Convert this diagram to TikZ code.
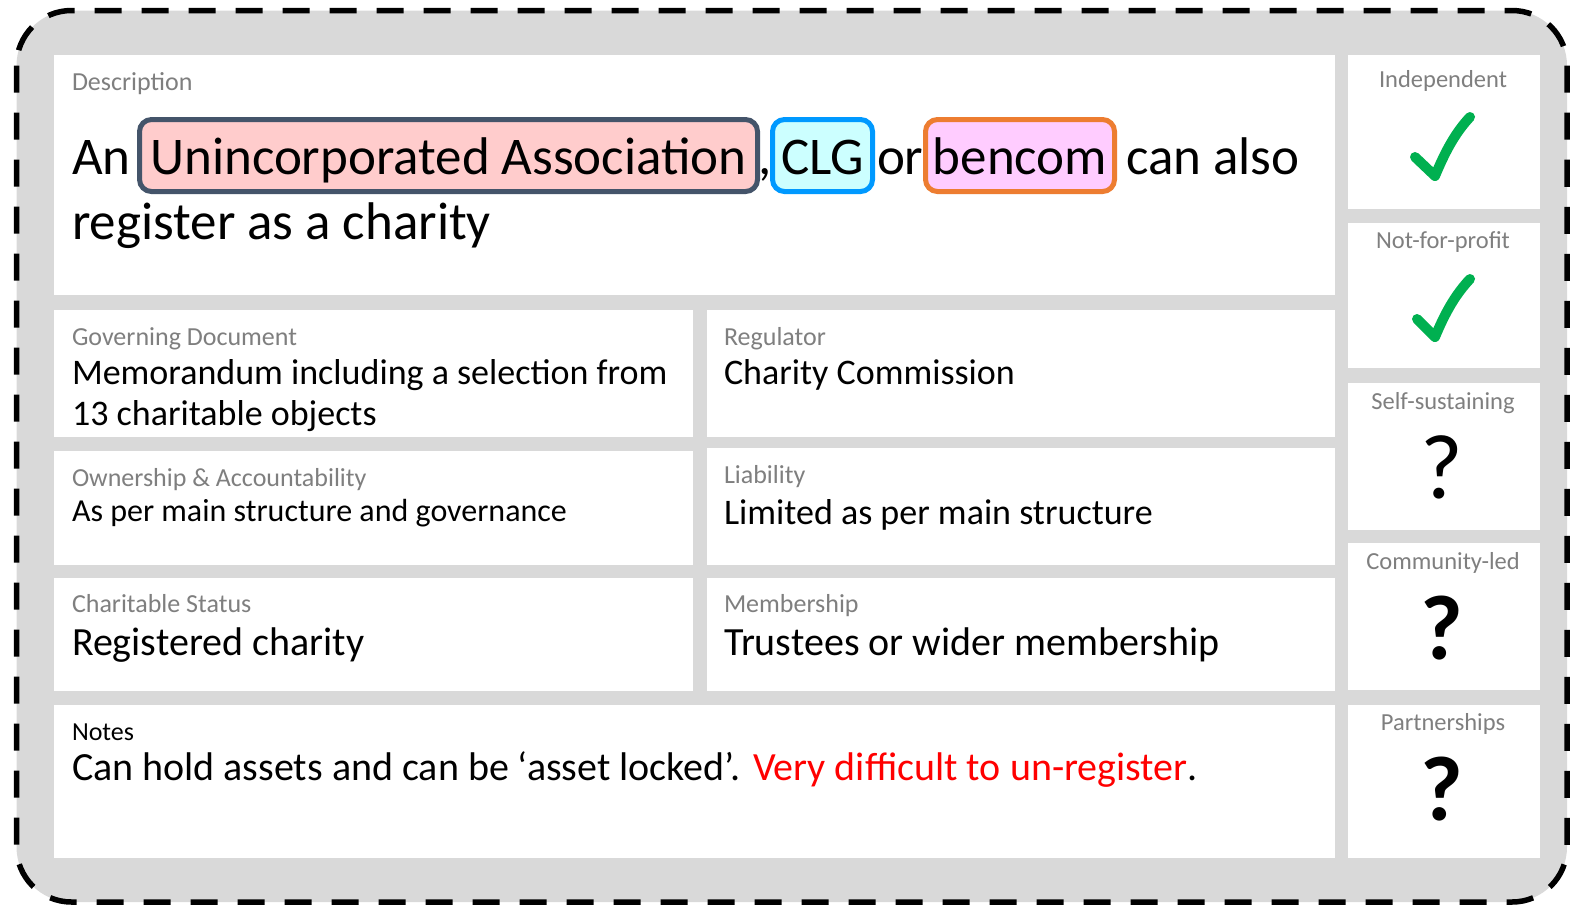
\documentclass[tikz,border=0pt]{standalone}
\usepackage{fontspec}
\setmainfont{Carlito}
\definecolor{bggray}{HTML}{D9D9D9}
\definecolor{labgray}{HTML}{7F7F7F}
\definecolor{slate}{HTML}{44546A}
\definecolor{pinkfill}{HTML}{FFCCCC}
\definecolor{clgblue}{HTML}{0099FF}
\definecolor{cyanfill}{HTML}{CCFFFF}
\definecolor{orangeb}{HTML}{ED7D31}
\definecolor{magfill}{HTML}{FFCCFF}
\definecolor{checkgreen}{HTML}{00B050}
\definecolor{notered}{HTML}{FF0000}
\begin{document}
\begin{tikzpicture}[x=1pt,y=-1pt,
  panel/.style={fill=white, draw=none, inner sep=0, outer sep=0, anchor=north west},
  lab/.style={text=labgray, font=\fontsize{26}{31}\selectfont, inner sep=0, outer sep=0, anchor=base west},
  rlab/.style={text=labgray, font=\fontsize{24.5}{29}\selectfont, inner sep=0, outer sep=0, anchor=base},
  body/.style={text=black, inner sep=0, outer sep=0, anchor=base west, align=left},
  big/.style={body, font=\fontsize{53}{62}\selectfont},
  hl/.style={big, anchor=base west, rounded corners=12pt, line width=5pt, inner xsep=0pt, inner ysep=6pt, text height=48.5pt, text depth=11.5pt},
  check/.style={draw=checkgreen, line width=10pt, line cap=round, line join=round},
  qmark/.style={inner sep=0, outer sep=0, anchor=base, font=\fontsize{92}{92}\selectfont}
]
\useasboundingbox (0,0) rectangle (1570,906);
% outer frame
\path[fill=bggray, draw=black, line width=5.5pt, dash pattern=on 27pt off 20pt, rounded corners=55pt]
  (16.5,10.5) rectangle (1567,902);
% panels
\node[panel, minimum width=1281pt, minimum height=240pt] (pdesc) at (54,55) {};
\node[panel, minimum width=639pt, minimum height=127pt] (pgov) at (54,310) {};
\node[panel, minimum width=628pt, minimum height=127pt] (preg) at (707,310) {};
\node[panel, minimum width=639pt, minimum height=114pt] (pown) at (54,451) {};
\node[panel, minimum width=628pt, minimum height=117pt] (plia) at (707,448) {};
\node[panel, minimum width=639pt, minimum height=113pt] (pcha) at (54,578) {};
\node[panel, minimum width=628pt, minimum height=113pt] (pmem) at (707,578) {};
\node[panel, minimum width=1281pt, minimum height=153pt] (pnotes) at (54,705) {};
\node[panel, minimum width=192pt, minimum height=154pt] (r1) at (1348,55) {};
\node[panel, minimum width=192pt, minimum height=145pt] (r2) at (1348,223) {};
\node[panel, minimum width=192pt, minimum height=147pt] (r3) at (1348,383) {};
\node[panel, minimum width=192pt, minimum height=147pt] (r4) at (1348,543) {};
\node[panel, minimum width=192pt, minimum height=153pt] (r5) at (1348,705) {};
% description
\node[lab] (ldesc) at (72,90) {Description};
\node[big] (an) at (72,174) {An};
\node[hl, draw=slate, fill=pinkfill, minimum width=618pt] (ua) at (139.5,174) {Unincorporated Association};
\node[big] (comma) at ([xshift=1pt]ua.base east) {,};
\node[hl, draw=clgblue, fill=cyanfill, minimum width=100pt] (clg) at (772.5,174) {CLG};
\node[big] (or) at (877,174) {or};
\node[hl, draw=orangeb, fill=magfill, minimum width=189pt] (ben) at (925.5,174) {bencom};
\node[big] (canalso) at (1126,174) {can also};
\node[big] (reg2) at (72,239) {register as a charity};
% governing
\node[lab] (lgov) at (72,345) {Governing Document};
\node[body, font=\fontsize{36}{40}\selectfont] (tgov) at (72,384) {Memorandum including a selection from};
\node[body, font=\fontsize{36}{40}\selectfont] (tgov2) at (72,425) {13 charitable objects};
% regulator
\node[lab] (lreg) at (724,345) {Regulator};
\node[body, font=\fontsize{36}{40}\selectfont] (treg) at (724,384) {Charity Commission};
% ownership
\node[lab] (lown) at (72,486) {Ownership \& Accountability};
\node[body, font=\fontsize{32}{38}\selectfont] (town) at (72,521) {As per main structure and governance};
% liability
\node[lab] (llia) at (724,483) {Liability};
\node[body, font=\fontsize{36}{40}\selectfont] (tlia) at (724,524) {Limited as per main structure};
% charitable status
\node[lab] (lcha) at (72,612) {Charitable Status};
\node[body, font=\fontsize{40}{44}\selectfont] (tcha) at (72,655) {Registered charity};
% membership
\node[lab] (lmem) at (724,612) {Membership};
\node[body, font=\fontsize{40}{44}\selectfont] (tmem) at (724,655) {Trustees or wider membership};
% notes
\node[lab, text=black] (lnotes) at (72,740) {Notes};
\node[body, font=\fontsize{40}{44}\selectfont] (tnotes) at (72,780) {Can hold assets and can be ‘asset locked’. \textcolor{notered}{Very difficult to un-register}.};
% right column
\node[rlab] (l1) at (1443,87) {Independent};
\node[rlab] (l2) at (1443,248) {Not-for-profit};
\node[rlab] (l3) at (1443,409) {Self-sustaining};
\node[rlab] (l4) at (1443,569) {Community-led};
\node[rlab] (l5) at (1443,730) {Partnerships};
\draw[check] (1415,157) -- (1435,176) .. controls (1445,152) and (1455,133) .. (1470,117);
\draw[check] (1417,319) -- (1435,337) .. controls (1445,313) and (1455,295) .. (1470,279);
\node[qmark] (q3) at (1442,498) {?};
\node[qmark, font=\fontsize{92}{92}\selectfont\bfseries] (q4) at (1442,659) {?};
\node[qmark, font=\fontsize{92}{92}\selectfont\bfseries] (q5) at (1442,820) {?};
\end{tikzpicture}
\end{document}
